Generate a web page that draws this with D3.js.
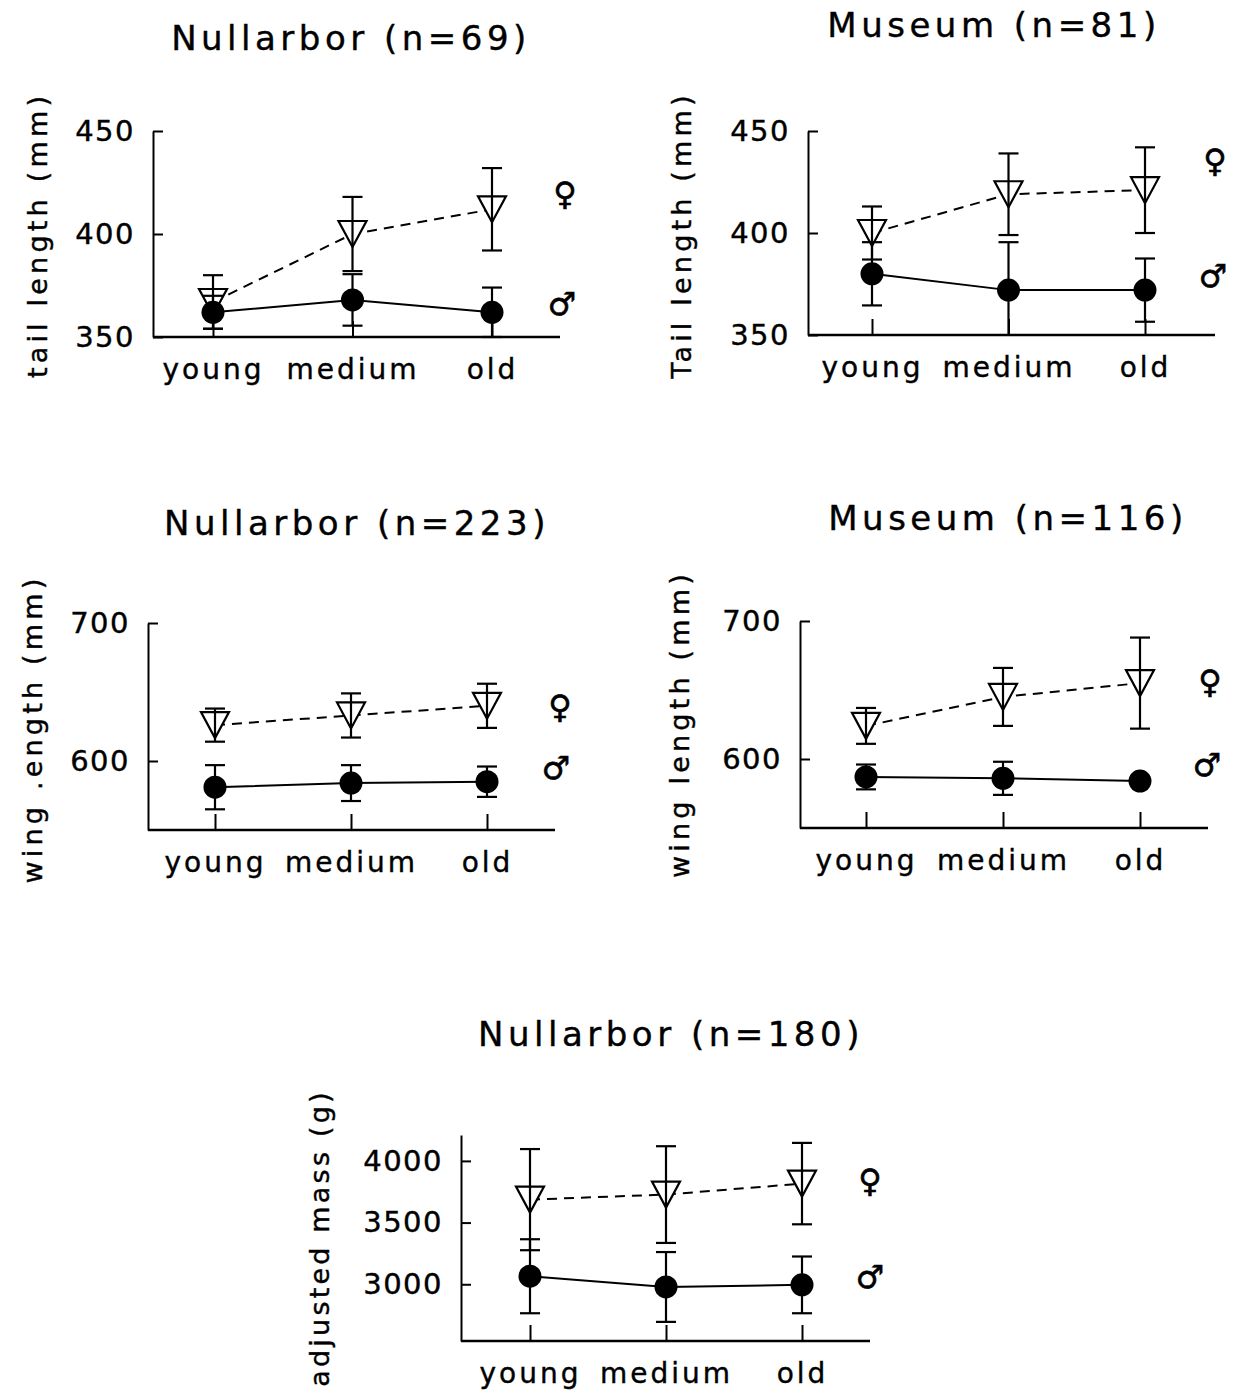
<!DOCTYPE html>
<html><head><meta charset="utf-8">
<script src="https://cdn.jsdelivr.net/npm/d3@7"></script>
<style>
body{margin:0;background:#fff;}
text{font-family:"DejaVu Sans",sans-serif;fill:#000;}
</style></head>
<body><svg id="chart" width="1239" height="1396"></svg>
<script>
// ---- data ----
const categories = ["young", "medium", "old"];

const tailNullarborFemale = [367, 400, 412];
const tailNullarborFemaleErr = [13, 18, 20];
const tailNullarborMale = [362, 368, 362];
const tailNullarborMaleErr = [8, 12.5, 12];

const tailMuseumFemale = [400, 419, 421];
const tailMuseumFemaleErr = [13, 20, 21];
const tailMuseumMale = [380, 372, 372];
const tailMuseumMaleErr = [15.5, 23.5, 15.5];

const wingNullarborFemale = [626, 633, 640];
const wingNullarborFemaleErr = [12, 16, 16];
const wingNullarborMale = [581, 584, 585];
const wingNullarborMaleErr = [16, 13, 11];

const wingMuseumFemale = [624, 645, 655];
const wingMuseumFemaleErr = [13, 21, 33];
const wingMuseumMale = [587, 586, 584];
const wingMuseumMaleErr = [9, 12, 0];

const massNullarborFemale = [3686, 3727, 3816];
const massNullarborFemaleErr = [410, 392, 330];
const massNullarborMale = [3065, 2978, 2995];
const massNullarborMaleErr = [300, 283, 230];

const tailTicks = [350, 400, 450];
const wingTicks = [600, 700];
const massTicks = [3000, 3500, 4000];

const titles = ["Nullarbor (n=69)", "Museum (n=81)", "Nullarbor (n=223)", "Museum (n=116)", "Nullarbor (n=180)"];
const yLabels = ["tail length (mm)", "Tail length (mm)", "wing .ength (mm)", "wing length (mm)", "adjusted mass (g)"];

// ---- layout ----
const panels = [
  {title: titles[0], tx: 351, ty: 50, ylab: yLabels[0], lx: 47, ly: 235, ls: 4.2,
   domain: [350, 450], yr: [337, 131], x0: 153, xEnd: 560, cr: [213, 492], ticks: tailTicks,
   f: tailNullarborFemale, fe: tailNullarborFemaleErr, m: tailNullarborMale, me: tailNullarborMaleErr,
   fs: [565, 205], ms: [562, 315]},
  {title: titles[1], tx: 994, ty: 37, ylab: yLabels[1], lx: 691, ly: 235, ls: 4.2,
   domain: [350, 450], yr: [335, 131], x0: 808, xEnd: 1215, cr: [872, 1145], ticks: tailTicks,
   f: tailMuseumFemale, fe: tailMuseumFemaleErr, m: tailMuseumMale, me: tailMuseumMaleErr,
   fs: [1215, 172], ms: [1213, 287]},
  {title: titles[2], tx: 357, ty: 535, ylab: yLabels[2], lx: 42, ly: 729, ls: 4.2,
   domain: [550, 700], yr: [830, 623], x0: 148, xEnd: 555, cr: [215, 487], ticks: wingTicks,
   f: wingNullarborFemale, fe: wingNullarborFemaleErr, m: wingNullarborMale, me: wingNullarborMaleErr,
   fs: [560, 718], ms: [556, 779]},
  {title: titles[3], tx: 1008, ty: 530, ylab: yLabels[3], lx: 689, ly: 724, ls: 4.2,
   domain: [550, 700], yr: [828, 621], x0: 800, xEnd: 1208, cr: [866, 1140], ticks: wingTicks,
   f: wingMuseumFemale, fe: wingMuseumFemaleErr, m: wingMuseumMale, me: wingMuseumMaleErr,
   fs: [1210, 693], ms: [1207, 776]},
  {title: titles[4], tx: 671, ty: 1046, ylab: yLabels[4], lx: 329, ly: 1238, ls: 3.2,
   domain: [2540, 4210], yr: [1341, 1135], x0: 461, xEnd: 870, cr: [530, 802], ticks: massTicks,
   f: massNullarborFemale, fe: massNullarborFemaleErr, m: massNullarborMale, me: massNullarborMaleErr,
   fs: [870, 1192], ms: [870, 1288]}
];

const svg = d3.select("#chart");

function drawPanel(p) {
  const g = svg.append("g");
  const y = d3.scaleLinear().domain(p.domain).range(p.yr);
  const x = d3.scalePoint().domain(categories).range(p.cr);
  const bottom = p.yr[0];

  // title
  g.append("text").attr("x", p.tx).attr("y", p.ty).attr("text-anchor", "middle")
    .attr("font-size", 34).attr("letter-spacing", 4.5).attr("stroke", "#000").attr("stroke-width", 0.4).text(p.title);

  // y label
  g.append("text").attr("transform", `translate(${p.lx},${p.ly}) rotate(-90)`)
    .attr("text-anchor", "middle").attr("font-size", 27).attr("letter-spacing", p.ls)
    .attr("stroke", "#000").attr("stroke-width", 0.4).text(p.ylab);

  // y axis
  const ya = g.append("g").attr("transform", `translate(${p.x0},0)`)
    .call(d3.axisLeft(y).tickValues(p.ticks).tickSizeInner(-10).tickSizeOuter(0).tickPadding(18).tickFormat(d3.format("d")));
  ya.select(".domain").attr("stroke", "#000").attr("stroke-width", 2);
  ya.selectAll(".tick line").attr("stroke", "#000").attr("stroke-width", 2);
  ya.selectAll(".tick text").attr("font-size", 29).attr("font-family", "DejaVu Sans").attr("letter-spacing", 1.5)
    .attr("fill", "#000").attr("stroke", "#000").attr("stroke-width", 0.4);

  // x axis
  const xa = g.append("g").attr("transform", `translate(0,${bottom})`)
    .call(d3.axisBottom(x).tickSizeInner(-16).tickSizeOuter(0).tickPadding(22));
  xa.select(".domain").remove();
  xa.selectAll(".tick line").attr("stroke", "#000").attr("stroke-width", 2);
  xa.selectAll(".tick text").attr("font-size", 28).attr("font-family", "DejaVu Sans").attr("letter-spacing", 3)
    .attr("fill", "#000").attr("stroke", "#000").attr("stroke-width", 0.4);
  g.append("line").attr("x1", p.x0).attr("x2", p.xEnd).attr("y1", bottom).attr("y2", bottom)
    .attr("stroke", "#000").attr("stroke-width", 2.5);

  const fData = categories.map((c, i) => ({c, v: p.f[i], e: p.fe[i]}));
  const mData = categories.map((c, i) => ({c, v: p.m[i], e: p.me[i]}));
  const line = d3.line().x(d => x(d.c)).y(d => y(d.v));

  g.append("path").datum(fData).attr("d", line).attr("fill", "none").attr("stroke", "#000")
    .attr("stroke-width", 2).attr("stroke-dasharray", "10,7");
  g.append("path").datum(mData).attr("d", line).attr("fill", "none").attr("stroke", "#000")
    .attr("stroke-width", 2);

  // triangles (female)
  g.selectAll(".tri").data(fData).enter().append("path")
    .attr("d", d => { const cx = x(d.c), cy = y(d.v); return `M${cx-14},${cy-13}L${cx+14},${cy-13}L${cx},${cy+13}Z`; })
    .attr("fill", "#fff").attr("stroke", "#000").attr("stroke-width", 2.2);

  function errorBars(data) {
    data.forEach(d => {
      if (!d.e) return;
      const cx = x(d.c);
      const lo = Math.max(d.v - d.e, p.domain[0]);
      const hi = d.v + d.e;
      g.append("line").attr("x1", cx).attr("x2", cx).attr("y1", y(lo)).attr("y2", y(hi))
        .attr("stroke", "#000").attr("stroke-width", 2.2);
      g.append("line").attr("x1", cx - 10).attr("x2", cx + 10).attr("y1", y(hi)).attr("y2", y(hi))
        .attr("stroke", "#000").attr("stroke-width", 2.2);
      if (d.v - d.e >= p.domain[0]) {
        g.append("line").attr("x1", cx - 10).attr("x2", cx + 10).attr("y1", y(lo)).attr("y2", y(lo))
          .attr("stroke", "#000").attr("stroke-width", 2.2);
      }
    });
  }
  errorBars(fData);
  errorBars(mData);

  // circles (male)
  g.selectAll(".dot").data(mData).enter().append("circle")
    .attr("cx", d => x(d.c)).attr("cy", d => y(d.v)).attr("r", 11.5).attr("fill", "#000");

  // sex symbols
  g.append("text").attr("x", p.fs[0]).attr("y", p.fs[1]).attr("text-anchor", "middle")
    .attr("font-size", 32).attr("stroke", "#000").attr("stroke-width", 0.6).text("\u2640");
  g.append("text").attr("x", p.ms[0]).attr("y", p.ms[1]).attr("text-anchor", "middle")
    .attr("font-size", 32).attr("stroke", "#000").attr("stroke-width", 0.6).text("\u2642");
}

panels.forEach(drawPanel);
</script></body></html>
